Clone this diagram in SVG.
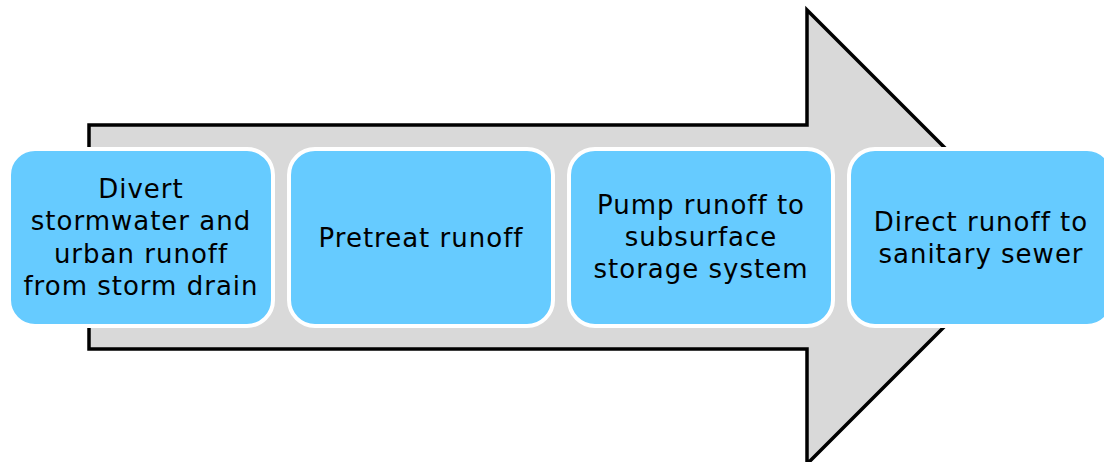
<svg xmlns="http://www.w3.org/2000/svg" width="1104" height="462" viewBox="0 0 1104 462">
<style>
.box{fill:#66CBFF;stroke:#FFFFFF;stroke-width:4}
.t{font-family:"DejaVu Sans",sans-serif;font-size:26px;letter-spacing:1px;fill:#000;text-anchor:middle}
</style>
<rect width="1104" height="462" fill="#FFFFFF"/>
<g id="arrow">
<path d="M89,125 H807 V10 L1034,237 L807,464 V349 H89 Z" fill="#D9D9D9" stroke="#000" stroke-width="3.5" stroke-linejoin="miter"/>
</g>
<g id="connectors"></g>
<g id="step1">
<rect class="box" x="9" y="149" width="264" height="177" rx="26"/>
<text class="t"><tspan x="141" y="198">Divert</tspan><tspan x="141" y="230">stormwater and</tspan><tspan x="141" y="263">urban runoff</tspan><tspan x="141" y="295">from storm drain</tspan></text>
</g>
<g id="step2">
<rect class="box" x="289" y="149" width="264" height="177" rx="26"/>
<text class="t" x="421" y="247">Pretreat runoff</text>
</g>
<g id="step3">
<rect class="box" x="569" y="149" width="264" height="177" rx="26"/>
<text class="t"><tspan x="701" y="214">Pump runoff to</tspan><tspan x="701" y="246">subsurface</tspan><tspan x="701" y="278">storage system</tspan></text>
</g>
<g id="step4">
<rect class="box" x="849" y="149" width="264" height="177" rx="26"/>
<text class="t"><tspan x="981" y="231">Direct runoff to</tspan><tspan x="981" y="263">sanitary sewer</tspan></text>
</g>
</svg>
